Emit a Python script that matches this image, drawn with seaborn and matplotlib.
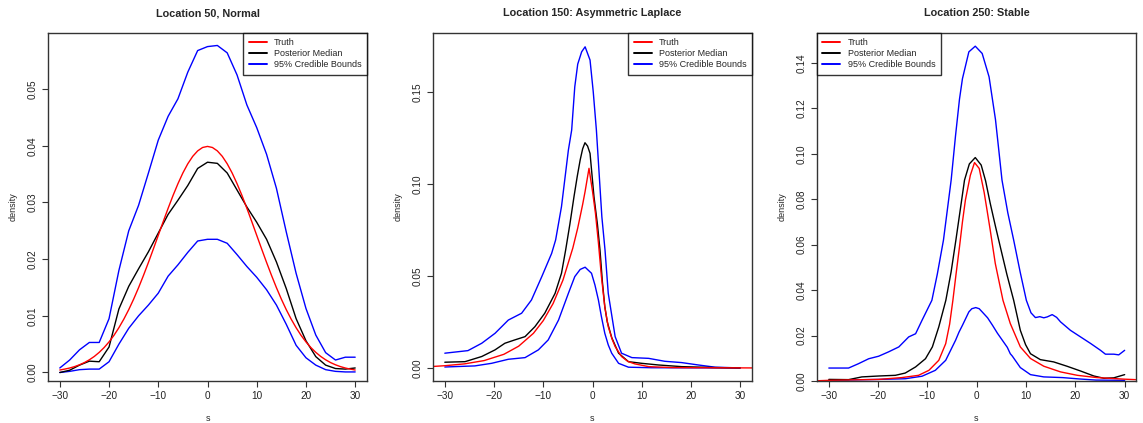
import numpy as np
import pandas as pd
import matplotlib
matplotlib.use("Agg")
import matplotlib.pyplot as plt
import seaborn as sns

# ---------------- data ----------------
titles = ["Location 50, Normal", "Location 150: Asymmetric Laplace", "Location 250: Stable"]
legend_labels = ["Truth", "Posterior Median", "95% Credible Bounds"]
x_ticks = [-30, -20, -10, 0, 10, 20, 30]

# Panel 1 (Normal)
p1_truth_x = list(range(-30, 31))
p1_truth = [0.00044, 0.00060, 0.00079, 0.00104, 0.00136, 0.00175, 0.00224, 0.00283,
            0.00355, 0.00440, 0.00540, 0.00656, 0.00790, 0.00941, 0.01109, 0.01295,
            0.01497, 0.01714, 0.01942, 0.02179, 0.02420, 0.02661, 0.02897, 0.03123,
            0.03332, 0.03521, 0.03683, 0.03814, 0.03910, 0.03970, 0.03989, 0.03970,
            0.03910, 0.03814, 0.03683, 0.03521, 0.03332, 0.03123, 0.02897, 0.02661,
            0.02420, 0.02179, 0.01942, 0.01714, 0.01497, 0.01295, 0.01109, 0.00941,
            0.00790, 0.00656, 0.00540, 0.00440, 0.00355, 0.00283, 0.00224, 0.00175,
            0.00136, 0.00104, 0.00079, 0.00060, 0.00044]
p1_x = [-30, -28, -26, -24, -22, -20, -18, -16, -14, -12, -10, -8, -6, -4, -2, 0,
        2, 4, 6, 8, 10, 12, 14, 16, 18, 20, 22, 24, 26, 28, 30]
p1_median = [0.0000, 0.0004, 0.0013, 0.0020, 0.0019, 0.0045, 0.0112, 0.0152, 0.0183,
             0.0213, 0.0246, 0.0279, 0.0304, 0.0330, 0.0360, 0.0371, 0.0369, 0.0352,
             0.0322, 0.0292, 0.0265, 0.0235, 0.0195, 0.0148, 0.0095, 0.0056, 0.0028,
             0.0013, 0.0007, 0.0006, 0.0008]
p1_lower = [0.0000, 0.0002, 0.0005, 0.0006, 0.0006, 0.0019, 0.0050, 0.0078, 0.0100,
            0.0119, 0.0140, 0.0170, 0.0190, 0.0212, 0.0232, 0.0235, 0.0235, 0.0228,
            0.0208, 0.0187, 0.0168, 0.0146, 0.0119, 0.0085, 0.0048, 0.0026, 0.0013,
            0.0005, 0.0002, 0.0001, 0.0001]
p1_upper = [0.0008, 0.0022, 0.0040, 0.0053, 0.0053, 0.0095, 0.0180, 0.0250, 0.0295,
            0.0352, 0.0410, 0.0452, 0.0483, 0.0530, 0.0568, 0.0575, 0.0577, 0.0564,
            0.0525, 0.0472, 0.0432, 0.0385, 0.0325, 0.0248, 0.0175, 0.0113, 0.0066,
            0.0035, 0.0022, 0.0027, 0.0027]

# Panel 2 (Asymmetric Laplace)
p2_truth_x = [-32.4, -30, -26, -22, -18, -15, -12, -10, -8, -6, -4, -3, -2, -1.5, -0.71,
              0.0, 0.6, 1.2, 1.8, 2.5, 3.2, 4.0, 4.6, 5.9, 7.2, 8.6, 11.4, 16, 22, 32.4]
p2_truth = [0.0008, 0.0012, 0.0022, 0.0040, 0.0074, 0.0118, 0.0188, 0.0257, 0.0350,
            0.0477, 0.0651, 0.0760, 0.0888, 0.0959, 0.1084, 0.0960, 0.0840, 0.0680,
            0.0500, 0.0330, 0.0224, 0.0155, 0.0116, 0.0062, 0.0035, 0.0022, 0.0007,
            0.0002, 0.0001, 0.0000]
p2_med_x = [-30, -25.9, -22.5, -19.8, -17.8, -15.8, -13.7, -11.7, -9.7, -7.6, -6.3, -5.45,
            -4.6, -3.76, -3.1, -2.5, -2.0, -1.53, -1.0, -0.5, 0.3, 1.0, 1.52, 2.0, 2.5,
            3.0, 3.9, 5.3, 7.3, 10, 13.4, 18.1, 25, 30]
p2_median = [0.0031, 0.0034, 0.0062, 0.0098, 0.0134, 0.0152, 0.0170, 0.0224, 0.0297,
             0.0405, 0.0514, 0.0641, 0.0780, 0.0930, 0.1040, 0.1130, 0.1190, 0.1223,
             0.1205, 0.1165, 0.0930, 0.0780, 0.0641, 0.0470, 0.0333, 0.0250, 0.0165,
             0.0080, 0.0034, 0.0025, 0.0016, 0.0007, 0.0002, 0.0000]
p2_up_x = [-30, -25.3, -22.5, -19.8, -17.1, -14.4, -12.4, -10.3, -8.3, -7.49, -6.3, -4.9,
           -4.23, -3.6, -3.0, -2.2, -1.5, -0.5, 0.15, 0.79, 1.9, 2.54, 3.2, 4.6, 5.9, 8,
           11.4, 14.7, 18.1, 21.5, 24.9, 30]
p2_upper = [0.0080, 0.0094, 0.0134, 0.0188, 0.0260, 0.0297, 0.0369, 0.0496, 0.0622,
            0.0695, 0.0876, 0.1183, 0.1292, 0.1527, 0.1650, 0.1717, 0.1744, 0.1672,
            0.1500, 0.1292, 0.0821, 0.0641, 0.0405, 0.0170, 0.0080, 0.0056, 0.0052,
            0.0036, 0.0029, 0.0016, 0.0004, 0.0000]
p2_lo_x = [-30, -23.9, -20.5, -17.1, -13.7, -11, -9, -6.9, -4.9, -3.6, -2.5, -1.5, -0.2,
           0.5, 1.2, 1.8, 2.5, 3.2, 3.9, 5.3, 7.3, 12, 30]
p2_lower = [0.0005, 0.0011, 0.0025, 0.0047, 0.0056, 0.0098, 0.0152, 0.0260, 0.0405,
            0.0496, 0.0535, 0.0547, 0.0514, 0.0450, 0.0369, 0.0280, 0.0188, 0.0125,
            0.0080, 0.0025, 0.0004, 0.0001, 0.0000]

# Panel 3 (Stable)
p3_truth_x = [-32.4, -30, -25, -19.9, -15.2, -11.8, -9.7, -7.7, -6.3, -5.5, -4.84, -4.2,
              -3.5, -2.9, -2.3, -1.3, -0.45, 0.5, 1.5, 2.1, 2.74, 3.76, 5.32, 6.8, 8.84,
              10.9, 13.6, 17, 20.4, 24.4, 30, 32.2]
p3_truth = [0.0001, 0.0003, 0.0005, 0.0007, 0.0015, 0.0025, 0.0047, 0.0091, 0.0164,
            0.0250, 0.0355, 0.0470, 0.0590, 0.0700, 0.0796, 0.0905, 0.0961, 0.0935,
            0.0830, 0.0750, 0.0663, 0.0517, 0.0355, 0.0253, 0.0150, 0.0099, 0.0065,
            0.0040, 0.0025, 0.0015, 0.0008, 0.0006]
p3_med_x = [-30, -26, -23.3, -19.9, -16.5, -14.5, -12.4, -10.4, -9, -7.7, -6.27, -5.2,
            -4.23, -3.3, -2.48, -1.5, -0.3, 0.9, 1.8, 2.74, 3.8, 4.78, 6.1, 7.49, 8.84,
            9.9, 10.9, 12.9, 15.6, 18.3, 21.05, 23.75, 25.8, 27.8, 30]
p3_median = [0.0007, 0.0006, 0.0018, 0.0022, 0.0025, 0.0035, 0.0062, 0.0098, 0.0150,
             0.0238, 0.0355, 0.0480, 0.0620, 0.0760, 0.0884, 0.0955, 0.0983, 0.0950,
             0.0880, 0.0781, 0.0680, 0.0590, 0.0470, 0.0355, 0.0223, 0.0160, 0.0120,
             0.0094, 0.0084, 0.0065, 0.0044, 0.0022, 0.0012, 0.0014, 0.0028]
p3_up_x = [-30, -26, -24, -21.9, -19.9, -17.9, -15.8, -13.8, -12.4, -11.1, -9.1, -8.0,
           -6.75, -5.19, -4.3, -3.5, -2.9, -1.6, -0.3, 1.1, 2.5, 3.8, 4.5, 5.12, 6.3,
           7.49, 8.8, 10.06, 11.0, 11.9, 12.8, 13.6, 14.3, 15.3, 16.2, 17.0, 19.0, 21.05,
           23.1, 25.1, 26.1, 27.8, 28.8, 30]
p3_upper = [0.0057, 0.0057, 0.0076, 0.0098, 0.0109, 0.0128, 0.0150, 0.0194, 0.0208,
            0.0267, 0.0355, 0.0470, 0.0620, 0.0884, 0.1080, 0.1240, 0.1330, 0.1448,
            0.1473, 0.1441, 0.1338, 0.1150, 0.1010, 0.0884, 0.0740, 0.0620, 0.0480,
            0.0355, 0.0300, 0.0279, 0.0283, 0.0278, 0.0282, 0.0292, 0.0280, 0.0260,
            0.0223, 0.0194, 0.0165, 0.0135, 0.0118, 0.0118, 0.0115, 0.0135]
p3_lo_x = [-30, -19.9, -14.5, -11.1, -8.4, -6.3, -5.3, -4.3, -3.6, -2.9, -1.6, -1.0,
           -0.2, 0.5, 1.1, 2.2, 3.2, 4.2, 5.2, 6.2, 6.8, 7.2, 8.84, 10.9, 13.6, 17.4,
           20.8, 24.2, 30]
p3_lower = [0.0003, 0.0007, 0.0010, 0.0021, 0.0047, 0.0091, 0.0135, 0.0179, 0.0215,
            0.0245, 0.0304, 0.0318, 0.0323, 0.0318, 0.0304, 0.0278, 0.0245, 0.0210,
            0.0179, 0.0148, 0.0120, 0.0110, 0.0059, 0.0028, 0.0018, 0.0015, 0.0009,
            0.0004, 0.0003]

panels = [
    dict(truth=(p1_truth_x, p1_truth), median=(p1_x, p1_median), lower=(p1_x, p1_lower),
         upper=(p1_x, p1_upper), xlim=(-32.4, 32.4), ylim=(-0.0015, 0.0599),
         yticks=[0.00, 0.01, 0.02, 0.03, 0.04, 0.05], loc="upper right"),
    dict(truth=(p2_truth_x, p2_truth), median=(p2_med_x, p2_median), lower=(p2_lo_x, p2_lower),
         upper=(p2_up_x, p2_upper), xlim=(-32.4, 32.4), ylim=(-0.0071, 0.1819),
         yticks=[0.00, 0.05, 0.10, 0.15], loc="upper right"),
    dict(truth=(p3_truth_x, p3_truth), median=(p3_med_x, p3_median), lower=(p3_lo_x, p3_lower),
         upper=(p3_up_x, p3_upper), xlim=(-32.4, 32.3), ylim=(0.0, 0.1531),
         yticks=[0.00, 0.02, 0.04, 0.06, 0.08, 0.10, 0.12, 0.14], loc="upper left"),
]

# ---------------- style ----------------
sns.set_theme(style="ticks")
plt.rcParams["font.family"] = ["Liberation Sans", "DejaVu Sans"]
plt.rcParams["axes.linewidth"] = 1.0

fig = plt.figure(figsize=(11.43, 4.23), dpi=100)
lefts = [48 / 1143, 433 / 1143, 817 / 1143]
width = 319 / 1143
bottom = 1 - 381 / 423
height = (381 - 33) / 423

colors = {"truth": "#ff0000", "median": "#000000", "lower": "#0000ff", "upper": "#0000ff"}

for i, p in enumerate(panels):
    ax = fig.add_axes([lefts[i], bottom, width, height])
    for key in ["lower", "upper", "median", "truth"]:
        xs, ys = p[key]
        df = pd.DataFrame({"s": xs, "density": ys})
        sns.lineplot(data=df, x="s", y="density", ax=ax, color=colors[key],
                     lw=1.0, estimator=None, sort=False)
    ax.set_xlim(*p["xlim"])
    ax.set_ylim(*p["ylim"])
    ax.set_xticks(x_ticks)
    ax.set_xticklabels([f"{t}".replace("-", "\u2212") for t in x_ticks])
    ax.set_yticks(p["yticks"])
    ax.set_yticklabels(["{:.2f}".format(t) for t in p["yticks"]], rotation=90, va="center")
    ax.tick_params(axis="both", labelsize=7.2, length=4.5, width=0.8, color="#333333",
                   labelcolor="#222222", pad=3)
    for sp in ax.spines.values():
        sp.set_visible(True)
        sp.set_color("#333333")
        sp.set_linewidth(1.0)
    ax.set_xlabel("s", fontsize=6.5, labelpad=9)
    ax.set_ylabel("density", fontsize=6.5, labelpad=7)
    ax.set_title(titles[i], fontsize=7.8, fontweight="bold", pad=12)

    handles = [plt.Line2D([], [], color=c, lw=1.4) for c in ["#ff0000", "#000000", "#0000ff"]]
    leg = ax.legend(handles, legend_labels, loc=p["loc"], fontsize=6.5, frameon=True,
                    fancybox=False, borderaxespad=0, handlelength=2.0, handletextpad=0.8,
                    labelspacing=0.22, borderpad=0.6)
    leg.get_frame().set_edgecolor("black")
    leg.get_frame().set_linewidth(1.0)

fig.savefig("out.png", dpi=100)
